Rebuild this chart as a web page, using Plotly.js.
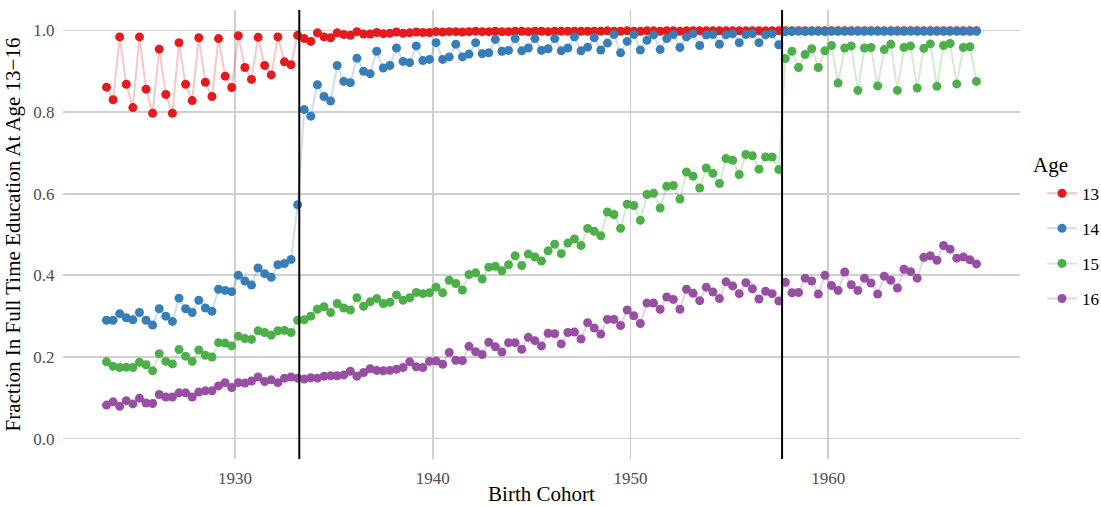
<!DOCTYPE html>
<html>
<head>
<meta charset="utf-8">
<script src="https://cdn.plot.ly/plotly-3.0.1.min.js"></script>
<style>
  html, body { margin: 0; padding: 0; background: #ffffff; }
  #chart { width: 1101px; height: 506px; }
</style>
</head>
<body>
<div id="chart"></div>
<script>
// Birth cohorts in four-month groups, starting mid-1923
const cohortStart = 1923.5;
const cohortCount = 133;
const cohorts = Array.from({ length: cohortCount }, (_, i) => cohortStart + i / 3);

const ageLabels = ['13', '14', '15', '16'];
const ageColors = ['#E41A1C', '#377EB8', '#4DAF4A', '#984EA3'];
const ageLineColors = ['rgba(228,26,28,0.25)', 'rgba(55,126,184,0.25)', 'rgba(77,175,74,0.25)', 'rgba(152,78,163,0.25)'];

// School-leaving-age reforms (cohort boundaries)
const reformCohorts = [1933.25, 1957.667];

const age13 = [
  0.861, 0.830, 0.984, 0.868, 0.811, 0.984, 0.856, 0.797, 0.954, 0.843,
  0.797, 0.970, 0.868, 0.828, 0.982, 0.873, 0.838, 0.980, 0.888, 0.860,
  0.987, 0.909, 0.880, 0.983, 0.914, 0.891, 0.984, 0.923, 0.916, 0.988,
  0.980, 0.973, 0.994, 0.984, 0.982, 0.994, 0.990, 0.988, 0.997, 0.991,
  0.991, 0.995, 0.992, 0.993, 0.996, 0.993, 0.994, 0.996, 0.995, 0.995,
  0.997, 0.996, 0.997, 0.997, 0.996, 0.997, 0.998, 0.997, 0.997, 0.998,
  0.997, 0.997, 0.998, 0.998, 0.997, 0.998, 0.998, 0.997, 0.998, 0.998,
  0.998, 0.998, 0.998, 0.998, 0.998, 0.998, 0.999, 0.998, 0.998, 0.999,
  0.998, 0.998, 0.999, 0.999, 0.998, 0.999, 0.999, 0.998, 0.999, 0.999,
  0.999, 0.999, 0.999, 0.999, 0.999, 0.999, 0.999, 0.999, 0.999, 0.999,
  0.999, 0.999, 0.999, 0.999, 0.999, 0.999, 0.999, 0.999, 0.999, 0.999,
  0.999, 0.999, 0.999, 0.999, 0.999, 0.999, 0.999, 0.999, 0.999, 0.999,
  0.999, 0.999, 0.999, 0.999, 0.999, 0.999, 0.999, 0.999, 0.999, 0.999,
  0.999, 0.999, 0.999
];

const age14 = [
  0.290, 0.290, 0.306, 0.296, 0.291, 0.309, 0.290, 0.278, 0.318, 0.300,
  0.287, 0.344, 0.318, 0.309, 0.339, 0.320, 0.312, 0.366, 0.363, 0.360,
  0.400, 0.386, 0.376, 0.418, 0.404, 0.395, 0.426, 0.429, 0.439, 0.573,
  0.806, 0.790, 0.867, 0.838, 0.827, 0.914, 0.875, 0.872, 0.932, 0.900,
  0.894, 0.949, 0.908, 0.914, 0.957, 0.924, 0.921, 0.962, 0.926, 0.929,
  0.970, 0.929, 0.935, 0.966, 0.935, 0.942, 0.970, 0.943, 0.945, 0.978,
  0.949, 0.951, 0.980, 0.950, 0.957, 0.980, 0.951, 0.955, 0.980, 0.950,
  0.957, 0.984, 0.950, 0.959, 0.982, 0.952, 0.969, 0.990, 0.945, 0.973,
  0.990, 0.952, 0.976, 0.989, 0.953, 0.980, 0.990, 0.958, 0.984, 0.992,
  0.963, 0.989, 0.990, 0.966, 0.989, 0.992, 0.970, 0.990, 0.992, 0.970,
  0.989, 0.992, 0.965, 0.997, 0.997, 0.998, 0.997, 0.998, 0.998, 0.997,
  0.998, 0.998, 0.998, 0.998, 0.998, 0.998, 0.998, 0.998, 0.998, 0.998,
  0.998, 0.998, 0.998, 0.998, 0.998, 0.998, 0.998, 0.998, 0.998, 0.998,
  0.998, 0.998, 0.998
];

const age15 = [
  0.188, 0.177, 0.174, 0.175, 0.174, 0.187, 0.181, 0.166, 0.208, 0.189,
  0.183, 0.218, 0.202, 0.189, 0.217, 0.204, 0.200, 0.235, 0.234, 0.227,
  0.251, 0.245, 0.243, 0.264, 0.260, 0.253, 0.264, 0.265, 0.260, 0.290,
  0.291, 0.300, 0.317, 0.323, 0.309, 0.331, 0.320, 0.315, 0.345, 0.324,
  0.335, 0.343, 0.331, 0.334, 0.352, 0.339, 0.345, 0.358, 0.355, 0.357,
  0.371, 0.357, 0.388, 0.380, 0.364, 0.402, 0.406, 0.391, 0.420, 0.422,
  0.411, 0.426, 0.448, 0.424, 0.452, 0.445, 0.435, 0.460, 0.476, 0.453,
  0.479, 0.489, 0.473, 0.515, 0.508, 0.497, 0.555, 0.549, 0.515, 0.574,
  0.571, 0.535, 0.598, 0.601, 0.565, 0.618, 0.620, 0.587, 0.653, 0.643,
  0.614, 0.663, 0.650, 0.625, 0.686, 0.682, 0.647, 0.696, 0.693, 0.660,
  0.690, 0.690, 0.659, 0.931, 0.949, 0.909, 0.941, 0.955, 0.909, 0.950,
  0.963, 0.871, 0.957, 0.962, 0.853, 0.957, 0.958, 0.864, 0.953, 0.966,
  0.853, 0.958, 0.962, 0.859, 0.956, 0.967, 0.863, 0.963, 0.968, 0.869,
  0.958, 0.960, 0.875
];

const age16 = [
  0.082, 0.090, 0.079, 0.093, 0.085, 0.099, 0.087, 0.086, 0.108, 0.102,
  0.102, 0.112, 0.112, 0.102, 0.114, 0.117, 0.117, 0.129, 0.137, 0.125,
  0.137, 0.136, 0.141, 0.151, 0.140, 0.144, 0.137, 0.148, 0.151, 0.148,
  0.146, 0.149, 0.148, 0.153, 0.154, 0.154, 0.156, 0.165, 0.153, 0.162,
  0.171, 0.167, 0.166, 0.167, 0.170, 0.174, 0.188, 0.176, 0.174, 0.189,
  0.190, 0.182, 0.211, 0.192, 0.191, 0.226, 0.213, 0.206, 0.236, 0.225,
  0.212, 0.235, 0.235, 0.219, 0.248, 0.240, 0.227, 0.258, 0.257, 0.232,
  0.260, 0.261, 0.244, 0.284, 0.271, 0.256, 0.292, 0.292, 0.277, 0.315,
  0.301, 0.282, 0.332, 0.332, 0.317, 0.347, 0.341, 0.317, 0.366, 0.356,
  0.338, 0.371, 0.359, 0.343, 0.384, 0.374, 0.355, 0.382, 0.367, 0.342,
  0.361, 0.355, 0.337, 0.383, 0.357, 0.358, 0.393, 0.386, 0.354, 0.400,
  0.375, 0.363, 0.408, 0.377, 0.363, 0.393, 0.381, 0.354, 0.398, 0.388,
  0.369, 0.415, 0.409, 0.393, 0.444, 0.448, 0.437, 0.473, 0.464, 0.442,
  0.445, 0.438, 0.428
];

const seriesValues = [age13, age14, age15, age16];

const serif = "'Liberation Serif', serif";

const traces = seriesValues.map((vals, k) => ({
  type: 'scatter',
  mode: 'lines+markers',
  name: ageLabels[k],
  legendgroup: 'age' + ageLabels[k],
  x: cohorts,
  y: vals,
  line: { color: ageLineColors[k], width: 2 },
  marker: { color: ageColors[k], size: 9 },
  hoverinfo: 'x+y+name'
}));

const shapes = reformCohorts.map(c => ({
  type: 'line',
  xref: 'x', yref: 'paper',
  x0: c, x1: c, y0: 0, y1: 1,
  line: { color: '#000000', width: 2 }
}));

const layout = {
  width: 1101,
  height: 506,
  margin: { l: 63, r: 81, t: 10, b: 47, autoexpand: false },
  paper_bgcolor: '#ffffff',
  plot_bgcolor: '#ffffff',
  font: { family: serif, color: '#000000' },
  showlegend: true,
  legend: {
    font: { family: serif, size: 17, color: '#000000' },
    x: 1.023, xanchor: 'left',
    y: 0.631, yanchor: 'top',
    tracegroupgap: 10,
    bgcolor: 'rgba(0,0,0,0)',
    borderwidth: 0
  },
  annotations: [{
    text: 'Age',
    xref: 'paper', yref: 'paper',
    x: 1.0115, xanchor: 'left',
    y: 0.655, yanchor: 'middle',
    showarrow: false,
    font: { family: serif, size: 21, color: '#000000' }
  }],
  xaxis: {
    range: [1921.3, 1969.7],
    tickvals: [1930, 1940, 1950, 1960],
    ticktext: ['1930', '1940', '1950', '1960'],
    ticks: 'outside', ticklen: 4, tickcolor: 'rgba(0,0,0,0)',
    tickfont: { family: serif, size: 17, color: '#4d4d4d' },
    showgrid: true, gridcolor: '#cfcfcf', gridwidth: 1.8,
    zeroline: false, showline: false,
    title: { text: 'Birth Cohort', font: { family: serif, size: 21, color: '#000000' }, standoff: 6 }
  },
  yaxis: {
    range: [-0.05, 1.05],
    tickvals: [0, 0.2, 0.4, 0.6, 0.8, 1.0],
    ticktext: ['0.0', '0.2', '0.4', '0.6', '0.8', '1.0'],
    ticks: 'outside', ticklen: 4, tickcolor: 'rgba(0,0,0,0)',
    tickfont: { family: serif, size: 17, color: '#4d4d4d' },
    showgrid: true, gridcolor: '#cfcfcf', gridwidth: 1.8,
    zeroline: false, showline: false,
    title: { text: 'Fraction In Full Time Education At Age 13\u221216', font: { family: serif, size: 21, color: '#000000' }, standoff: 6 }
  },
  shapes: shapes
};

Plotly.newPlot('chart', traces, layout, { displayModeBar: false, staticPlot: true });
</script>
</body>
</html>
